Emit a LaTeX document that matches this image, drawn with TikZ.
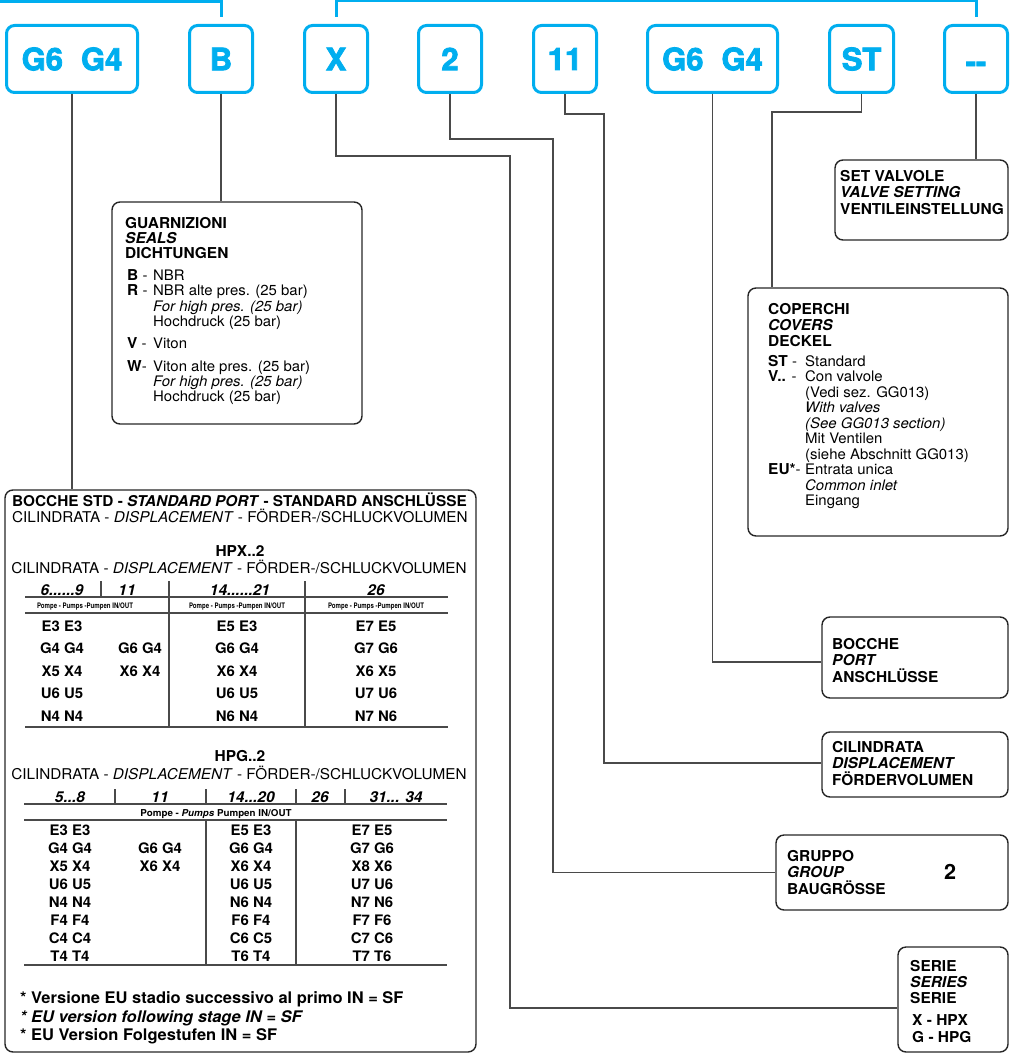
\documentclass[tikz,border=0pt]{standalone}
\usepackage{fontspec}
\setmainfont[FakeStretch=1.03]{TeX Gyre Heros}
\newfontfamily\heavyfont[BoldFeatures={FakeBold=2.5}]{TeX Gyre Heros}
\newfontfamily\narrowfont[FakeStretch=0.8]{TeX Gyre Heros}
\definecolor{codeblue}{HTML}{00AEEF}
\definecolor{linegray}{HTML}{4A4A4A}
\newcommand\bodytext[1]{{\fontsize{14.5}{15.5}\selectfont #1}}
\begin{document}
\begin{tikzpicture}[x=1pt,y=-1pt,
  codebox/.style={draw=codeblue, line width=3pt, rounded corners=8pt, minimum height=67pt, inner sep=0pt, text=codeblue, font=\heavyfont\bfseries\fontsize{31}{31}\selectfont},
  box/.style={draw=black!85, line width=1.4pt, rounded corners=8pt, inner sep=0pt},
  conn/.style={draw=linegray, line width=1.1pt},
  rulel/.style={draw=linegray, line width=1.1pt},
  txt/.style={inner sep=0pt, anchor=north west, align=left, font=\fontsize{15}{15.5}\selectfont},
  cell/.style={inner sep=0pt, font=\bfseries\fontsize{14.5}{15}\selectfont},
  head/.style={inner sep=0pt, anchor=base, font=\bfseries\itshape\fontsize{15}{15}\selectfont},
  single/.style={inner sep=0pt, anchor=base, font=\fontsize{14.85}{16}\selectfont},
  boldsingle/.style={inner sep=0pt, anchor=base, font=\bfseries\fontsize{15}{16}\selectfont},
]
\useasboundingbox (0,0) rectangle (1009,1054);

% ---------- code boxes ----------
\node[codebox, minimum width=131pt] (codeL) at (72,59) {G6\hspace{18pt}G4};
\node[codebox, minimum width=63pt] (codeB) at (221,59) {B};
\node[codebox, minimum width=63pt] (codeX) at (336,59) {X};
\node[codebox, minimum width=63pt] (code2) at (450,59) {2};
\node[codebox, minimum width=63pt] (code11) at (565,59) {11};
\node[codebox, minimum width=130pt] (codeR) at (712.5,59) {G6\hspace{18pt}G4};
\node[codebox, minimum width=64pt] (codeST) at (861.5,59) {ST};
\node[codebox, minimum width=63pt] (codeD) at (976,59) {\vphantom{G}\raisebox{-4pt}{-{}-}};

% ---------- top brackets ----------
\draw[codeblue, line width=3pt] (0,1.5) -| ([yshift=7pt]codeB.north);
\draw[codeblue, line width=3pt] ([yshift=7pt]codeX.north) -- ++(0,-16) -| ([yshift=7pt]codeD.north);

% ---------- boxes ----------
\node[box, minimum width=250pt, minimum height=222pt] (seals) at (237,313) {};
\node[box, minimum width=173pt, minimum height=80pt] (set) at (921.5,200) {};
\node[box, minimum width=260pt, minimum height=248pt] (cov) at (878,412) {};
\node[box, minimum width=186pt, minimum height=81pt] (port) at (915,657.5) {};
\node[box, minimum width=186pt, minimum height=65pt] (cil) at (915,764.5) {};
\node[box, minimum width=232pt, minimum height=75pt] (grp) at (892,872.5) {};
\node[box, minimum width=110pt, minimum height=105pt] (serie) at (953,999.5) {};
\node[box, minimum width=471pt, minimum height=562pt] (big) at (240.5,771) {};

% ---------- connectors ----------
\coordinate (xBend) at (510,156);
\coordinate (twoBend) at (553,139);
\coordinate (elevBend) at (604,114);
\coordinate (stBend) at (772,112);
\draw[conn] (codeL.south) -- (codeL.south |- big.north);
\draw[conn] (codeB.south) -- (codeB.south |- seals.north);
\draw[conn] (codeX.south) |- (xBend) |- ([yshift=-8.5pt]serie.west);
\draw[conn] (code2.south) |- (twoBend) |- (grp.west);
\draw[conn] (code11.south) |- (elevBend) |- ([yshift=1.5pt]cil.west);
\draw[conn] (codeR.south) |- ([yshift=-4.5pt]port.west);
\draw[conn] (codeST.south) |- (stBend) -- (stBend |- cov.north);
\draw[conn] (codeD.south) -- (codeD.south |- set.north);

% ---------- box texts ----------
\node[txt] (sealsT) at (125,217.5) {\textbf{GUARNIZIONI}\\[-1pt]
\textbf{\textit{SEALS}}\\[-0.5pt]
\textbf{DICHTUNGEN}\\[6.5pt]
\hspace*{2pt}\makebox[26pt][l]{\textbf{B}\bodytext{ -}}\bodytext{NBR}\\
\hspace*{2pt}\makebox[26pt][l]{\textbf{R}\bodytext{ -}}\bodytext{NBR alte pres. (25 bar)}\\
\hspace*{28pt}\bodytext{\textit{For high pres. (25 bar)}}\\[-0.5pt]
\hspace*{28pt}\bodytext{Hochdruck (25 bar)}\\[6.5pt]
\hspace*{2pt}\makebox[26pt][l]{\textbf{V}\bodytext{ -}}\bodytext{Viton}\\[7.5pt]
\hspace*{2pt}\makebox[26pt][l]{\textbf{W}\bodytext{-}}\bodytext{Viton alte pres. (25 bar)}\\
\hspace*{28pt}\bodytext{\textit{For high pres. (25 bar)}}\\[-0.5pt]
\hspace*{28pt}\bodytext{Hochdruck (25 bar)}};

\node[txt] (setT) at (840,169.8) {\textbf{SET VALVOLE}\\[1pt]
\textbf{\textit{VALVE SETTING}}\\[1pt]
\textbf{VENTILEINSTELLUNG}};

\node[txt] (covT) at (768,302.8) {\textbf{COPERCHI}\\[1pt]
\textbf{\textit{COVERS}}\\[0.5pt]
\textbf{DECKEL}\\[4.5pt]
\makebox[37pt][l]{\textbf{ST}\bodytext{ -}}\bodytext{Standard}\\[-0.5pt]
\makebox[37pt][l]{\textbf{V..}\bodytext{ -}}\bodytext{Con valvole}\\
\hspace*{37pt}\bodytext{(Vedi sez. GG013)}\\
\hspace*{37pt}\bodytext{\textit{With valves}}\\
\hspace*{37pt}\bodytext{\textit{(See GG013 section)}}\\
\hspace*{37pt}\bodytext{Mit Ventilen}\\
\hspace*{37pt}\bodytext{(siehe Abschnitt GG013)}\\
\makebox[37pt][l]{\textbf{EU*}\bodytext{-}}\bodytext{Entrata unica}\\
\hspace*{37pt}\bodytext{\textit{Common inlet}}\\
\hspace*{37pt}\bodytext{Eingang}};

\node[txt] (portT) at (832,637.8) {\textbf{BOCCHE}\\[1pt]
\textbf{\textit{PORT}}\\[1pt]
\textbf{ANSCHLÜSSE}};

\node[txt] (cilT) at (832,740.8) {\textbf{CILINDRATA}\\[1pt]
\textbf{\textit{DISPLACEMENT}}\\[1pt]
\textbf{FÖRDERVOLUMEN}};

\node[txt] (grpT) at (787,849.8) {\textbf{GRUPPO}\\[1pt]
\textbf{\textit{GROUP}}\\[1pt]
\textbf{BAUGRÖSSE}};
\node[inner sep=0pt, font=\bfseries\fontsize{21}{21}\selectfont] (grpN) at (950,872) {2};

\node[txt] (serieT) at (910,959.8) {\textbf{SERIE}\\[0.5pt]
\textbf{\textit{SERIES}}\\[0.5pt]
\textbf{SERIE}\\[6.5pt]
\hspace*{2pt}\textbf{X - HPX}\\[1.5pt]
\hspace*{2pt}\textbf{G - HPG}};

% ---------- big box: titles ----------
\node[inner sep=0pt, anchor=base west, font=\bfseries\fontsize{14.9}{16}\selectfont] (title) at (12,506.5) {BOCCHE STD - \textit{STANDARD PORT} - STANDARD ANSCHLÜSSE};
\node[inner sep=0pt, anchor=base west, font=\fontsize{14.85}{16}\selectfont] (sub1) at (12,522.3) {CILINDRATA - \textit{DISPLACEMENT} - FÖRDER-/SCHLUCKVOLUMEN};

% ---------- HPX table ----------
\node[boldsingle] (hpx) at (240,556.5) {HPX..2};
\node[single] (sub2) at (239,573.3) {CILINDRATA - \textit{DISPLACEMENT} - FÖRDER-/SCHLUCKVOLUMEN};
\node[head] (hx1) at (62,595.5) {6......9};
\node[head] (hx2) at (127,595.5) {11};
\node[head] (hx3) at (240,595.5) {14......21};
\node[head] (hx4) at (376,595.5) {26};
\draw[rulel] (101,581) -- (101,597);
\draw[rulel] (169,581) -- (169,727);
\draw[rulel] (305,581) -- (305,727);
\draw[rulel] (25,597) -- (448,597);
\draw[rulel] (25,613) -- (448,613);
\draw[rulel] (25,727) -- (448,727);
\node[inner sep=0pt, anchor=base, font=\narrowfont\bfseries\fontsize{7.6}{8}\selectfont] (px1) at (85,608.5) {Pompe - Pumps -Pumpen IN/OUT};
\node[inner sep=0pt, anchor=base, font=\narrowfont\bfseries\fontsize{7.6}{8}\selectfont] (px2) at (237,608.5) {Pompe - Pumps -Pumpen IN/OUT};
\node[inner sep=0pt, anchor=base, font=\narrowfont\bfseries\fontsize{7.6}{8}\selectfont] (px3) at (376,608.5) {Pompe - Pumps -Pumpen IN/OUT};
\foreach \t [count=\i] in {E3 E3, G4 G4, X5 X4, U6 U5, N4 N4}
  \node[cell] (xa\i) at (62,{626+22.5*(\i-1)}) {\t};
\foreach \t [count=\i] in {G6 G4, X6 X4}
  \node[cell] (xb\i) at (140,{626+22.5*\i}) {\t};
\foreach \t [count=\i] in {E5 E3, G6 G4, X6 X4, U6 U5, N6 N4}
  \node[cell] (xc\i) at (237,{626+22.5*(\i-1)}) {\t};
\foreach \t [count=\i] in {E7 E5, G7 G6, X6 X5, U7 U6, N7 N6}
  \node[cell] (xd\i) at (376,{626+22.5*(\i-1)}) {\t};

% ---------- HPG table ----------
\node[boldsingle] (hpg) at (240,761.5) {HPG..2};
\node[single] (sub3) at (239,779.3) {CILINDRATA - \textit{DISPLACEMENT} - FÖRDER-/SCHLUCKVOLUMEN};
\node[head] (hg1) at (70,802.5) {5...8};
\node[head] (hg2) at (160,802.5) {11};
\node[head] (hg3) at (251,802.5) {14...20};
\node[head] (hg4) at (320,802.5) {26};
\node[head] (hg5) at (396,802.5) {31... 34};
\draw[rulel] (115,789) -- (115,804);
\draw[rulel] (206,789) -- (206,804);
\draw[rulel] (296,789) -- (296,804);
\draw[rulel] (345,789) -- (345,804);
\draw[rulel] (206,820) -- (206,965);
\draw[rulel] (296,820) -- (296,965);
\draw[rulel] (24,804) -- (447,804);
\draw[rulel] (24,820) -- (447,820);
\draw[rulel] (24,965) -- (447,965);
\node[inner sep=0pt, anchor=base, font=\bfseries\fontsize{9.5}{10}\selectfont] (pg) at (216,816.5) {Pompe - \textit{Pumps} Pumpen IN/OUT};
\foreach \t [count=\i] in {E3 E3, G4 G4, X5 X4, U6 U5, N4 N4, F4 F4, C4 C4, T4 T4}
  \node[cell] (ga\i) at (70,{830+18*(\i-1)}) {\t};
\foreach \t [count=\i] in {G6 G4, X6 X4}
  \node[cell] (gb\i) at (160,{830+18*\i}) {\t};
\foreach \t [count=\i] in {E5 E3, G6 G4, X6 X4, U6 U5, N6 N4, F6 F4, C6 C5, T6 T4}
  \node[cell] (gc\i) at (251,{830+18*(\i-1)}) {\t};
\foreach \t [count=\i] in {E7 E5, G7 G6, X8 X6, U7 U6, N7 N6, F7 F6, C7 C6, T7 T6}
  \node[cell] (gd\i) at (372,{830+18*(\i-1)}) {\t};

% ---------- footnotes ----------
\node[inner sep=0pt, anchor=base west, font=\bfseries\fontsize{16}{16}\selectfont] (fn1) at (20,1003.5) {* Versione EU stadio successivo al primo IN = SF};
\node[inner sep=0pt, anchor=base west, font=\bfseries\itshape\fontsize{16}{16}\selectfont] (fn2) at (20,1022.5) {* EU version following stage IN = SF};
\node[inner sep=0pt, anchor=base west, font=\bfseries\fontsize{16}{16}\selectfont] (fn3) at (20,1040.5) {* EU Version Folgestufen IN = SF};
\end{tikzpicture}
\end{document}
